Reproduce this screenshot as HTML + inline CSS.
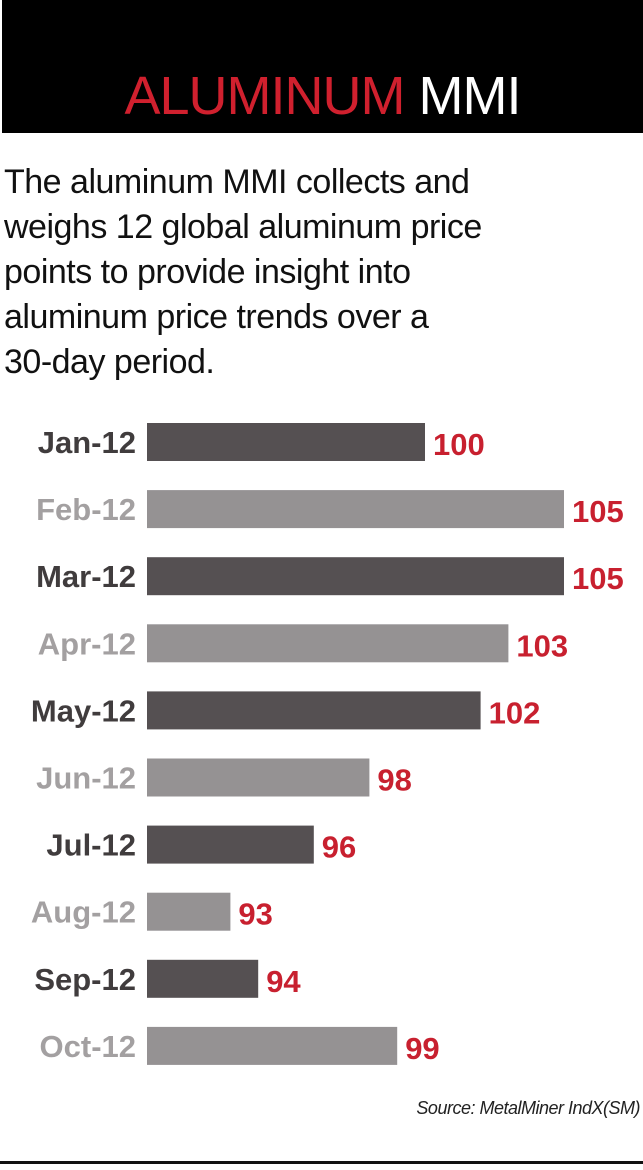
<!DOCTYPE html>
<html><head><meta charset="utf-8"><style>
body{margin:0;width:643px;height:1170px;background:#fff;position:relative;overflow:hidden;font-family:"Liberation Sans",sans-serif}
#hdr{position:absolute;left:2px;top:0;width:641px;height:133px;background:#000}
#title{position:absolute;left:0;width:641px;top:66px;text-align:center;font-size:54px;line-height:60px;letter-spacing:-1px}
#desc{position:absolute;left:4px;top:160px;font-size:34px;line-height:45px;color:#111;letter-spacing:-0.5px}
#src{position:absolute;right:3px;top:1098px;font-size:18px;font-style:italic;color:#222;letter-spacing:-0.5px}
#rule{position:absolute;left:0;top:1161px;width:643px;height:3px;background:#111}
svg{position:absolute;left:0;top:0}
</style></head><body>
<div id="hdr">
<div id="title"><span style="color:#d0202e">ALUMINUM</span> <span style="color:#fff">MMI</span></div></div>
<div id="desc">The aluminum MMI collects and<br>weighs 12 global aluminum price<br>points to provide insight into<br>aluminum price trends over a<br>30-day period.</div>
<svg id="chart" width="643" height="1170"></svg>
<div id="src">Source: MetalMiner IndX(SM)</div>
<div id="rule"></div>
<script>
const categories=["Jan-12","Feb-12","Mar-12","Apr-12","May-12","Jun-12","Jul-12","Aug-12","Sep-12","Oct-12"];
const values=[100,105,105,103,102,98,96,93,94,99];
const domainMin=90, pxPerUnit=27.8, x0=147, y0=423, rowStep=67.1, barH=38;
const xScale=v=>x0+(v-domainMin)*pxPerUnit;
const yScale=i=>y0+i*rowStep;
const svg=document.getElementById('chart');
const NS="http://www.w3.org/2000/svg";
categories.forEach((c,i)=>{
  const dark=i%2===0;
  const y=yScale(i);
  const r=document.createElementNS(NS,'rect');
  r.setAttribute('x',x0);r.setAttribute('y',y);
  r.setAttribute('width',xScale(values[i])-x0);r.setAttribute('height',barH);
  r.setAttribute('fill',dark?'#555052':'#959293');
  
  
  svg.appendChild(r);
  const t=document.createElementNS(NS,'text');
  t.setAttribute('x',136);t.setAttribute('y',y+barH/2+11);
  t.setAttribute('text-anchor','end');t.setAttribute('font-size','31');t.setAttribute('font-weight','bold');
  t.setAttribute('font-family','Liberation Sans, sans-serif');
  t.setAttribute('fill',dark?'#403c3d':'#a3a0a1');
  t.textContent=c;
  
  
  svg.appendChild(t);
  const v=document.createElementNS(NS,'text');
  v.setAttribute('x',xScale(values[i])+8);v.setAttribute('y',y+barH/2+13);
  v.setAttribute('font-size','31');v.setAttribute('font-weight','bold');
  v.setAttribute('font-family','Liberation Sans, sans-serif');
  v.setAttribute('fill','#c8202f');
  v.textContent=values[i];
  
  
  svg.appendChild(v);
});
</script>
</body></html>
